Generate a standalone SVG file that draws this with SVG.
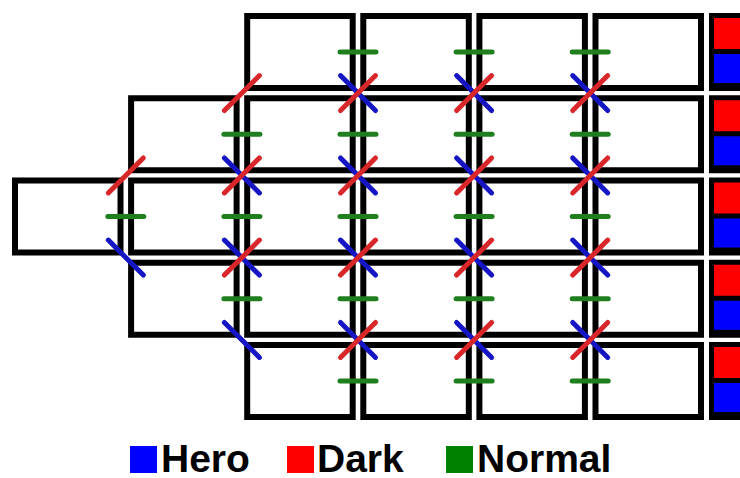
<svg xmlns="http://www.w3.org/2000/svg" xmlns:xlink="http://www.w3.org/1999/xlink" width="740" height="478" viewBox="0 0 740 478">
<style>
.box{fill:#fff;stroke:#000;stroke-width:6}
.g{stroke:#1f7f1f;stroke-width:5;stroke-linecap:round}
.r{stroke:#d8262a;stroke-width:5;stroke-linecap:round}
.b{stroke:#1515c4;stroke-width:5;stroke-linecap:round}
.lbl{font-family:"Liberation Sans",Arial,sans-serif;font-weight:bold;font-size:39px;fill:#000}
</style>
<defs>
<line id="gl" class="g" x1="-18" y1="0" x2="18" y2="0"/>
<line id="rl" class="r" x1="-17.5" y1="17.5" x2="17.5" y2="-17.5"/>
<line id="bl" class="b" x1="-17.5" y1="-17.5" x2="17.5" y2="17.5"/>
</defs>
<rect width="740" height="478" fill="#fff"/>
<g id="nodes">
<g id="r0c2"><rect class="box" x="247.2" y="16" width="105.5" height="72"/></g>
<g id="r0c3"><rect class="box" x="363.3" y="16" width="105.5" height="72"/></g>
<g id="r0c4"><rect class="box" x="479.4" y="16" width="105.5" height="72"/></g>
<g id="r0c5"><rect class="box" x="595.5" y="16" width="105.5" height="72"/></g>
<g id="r1c1"><rect class="box" x="131.1" y="98.25" width="105.5" height="72"/></g>
<g id="r1c2"><rect class="box" x="247.2" y="98.25" width="105.5" height="72"/></g>
<g id="r1c3"><rect class="box" x="363.3" y="98.25" width="105.5" height="72"/></g>
<g id="r1c4"><rect class="box" x="479.4" y="98.25" width="105.5" height="72"/></g>
<g id="r1c5"><rect class="box" x="595.5" y="98.25" width="105.5" height="72"/></g>
<g id="r2c0"><rect class="box" x="15" y="180.5" width="105.5" height="72"/></g>
<g id="r2c1"><rect class="box" x="131.1" y="180.5" width="105.5" height="72"/></g>
<g id="r2c2"><rect class="box" x="247.2" y="180.5" width="105.5" height="72"/></g>
<g id="r2c3"><rect class="box" x="363.3" y="180.5" width="105.5" height="72"/></g>
<g id="r2c4"><rect class="box" x="479.4" y="180.5" width="105.5" height="72"/></g>
<g id="r2c5"><rect class="box" x="595.5" y="180.5" width="105.5" height="72"/></g>
<g id="r3c1"><rect class="box" x="131.1" y="262.75" width="105.5" height="72"/></g>
<g id="r3c2"><rect class="box" x="247.2" y="262.75" width="105.5" height="72"/></g>
<g id="r3c3"><rect class="box" x="363.3" y="262.75" width="105.5" height="72"/></g>
<g id="r3c4"><rect class="box" x="479.4" y="262.75" width="105.5" height="72"/></g>
<g id="r3c5"><rect class="box" x="595.5" y="262.75" width="105.5" height="72"/></g>
<g id="r4c2"><rect class="box" x="247.2" y="345" width="105.5" height="72"/></g>
<g id="r4c3"><rect class="box" x="363.3" y="345" width="105.5" height="72"/></g>
<g id="r4c4"><rect class="box" x="479.4" y="345" width="105.5" height="72"/></g>
<g id="r4c5"><rect class="box" x="595.5" y="345" width="105.5" height="72"/></g>
<g id="side">
<rect x="709" y="13" width="40" height="78" fill="#000"/><rect x="714" y="18" width="30" height="31" fill="#f00"/><rect x="714" y="54" width="30" height="29" fill="#00f"/>
<rect x="709" y="95.25" width="40" height="78" fill="#000"/><rect x="714" y="100.25" width="30" height="31" fill="#f00"/><rect x="714" y="136.25" width="30" height="29" fill="#00f"/>
<rect x="709" y="177.5" width="40" height="78" fill="#000"/><rect x="714" y="182.5" width="30" height="31" fill="#f00"/><rect x="714" y="218.5" width="30" height="29" fill="#00f"/>
<rect x="709" y="259.75" width="40" height="78" fill="#000"/><rect x="714" y="264.75" width="30" height="31" fill="#f00"/><rect x="714" y="300.75" width="30" height="29" fill="#00f"/>
<rect x="709" y="342" width="40" height="78" fill="#000"/><rect x="714" y="347" width="30" height="31" fill="#f00"/><rect x="714" y="383" width="30" height="29" fill="#00f"/>
</g>
</g>
<g id="connectors">
<g id="normal">
<use href="#gl" x="358" y="52"/><use href="#gl" x="474.1" y="52"/><use href="#gl" x="590.2" y="52"/>
<use href="#gl" x="241.9" y="134.25"/><use href="#gl" x="358" y="134.25"/><use href="#gl" x="474.1" y="134.25"/><use href="#gl" x="590.2" y="134.25"/>
<use href="#gl" x="125.8" y="216.5"/><use href="#gl" x="241.9" y="216.5"/><use href="#gl" x="358" y="216.5"/><use href="#gl" x="474.1" y="216.5"/><use href="#gl" x="590.2" y="216.5"/>
<use href="#gl" x="241.9" y="298.75"/><use href="#gl" x="358" y="298.75"/><use href="#gl" x="474.1" y="298.75"/><use href="#gl" x="590.2" y="298.75"/>
<use href="#gl" x="358" y="381"/><use href="#gl" x="474.1" y="381"/><use href="#gl" x="590.2" y="381"/>
</g>
<g id="hero">
<use href="#bl" x="358" y="93.1"/><use href="#bl" x="474.1" y="93.1"/><use href="#bl" x="590.2" y="93.1"/>
<use href="#bl" x="241.9" y="175.4"/><use href="#bl" x="358" y="175.4"/><use href="#bl" x="474.1" y="175.4"/><use href="#bl" x="590.2" y="175.4"/>
<use href="#bl" x="125.8" y="257.6"/><use href="#bl" x="241.9" y="257.6"/><use href="#bl" x="358" y="257.6"/><use href="#bl" x="474.1" y="257.6"/><use href="#bl" x="590.2" y="257.6"/>
<use href="#bl" x="241.9" y="339.9"/><use href="#bl" x="358" y="339.9"/><use href="#bl" x="474.1" y="339.9"/><use href="#bl" x="590.2" y="339.9"/>
</g>
<g id="dark">
<use href="#rl" x="241.9" y="93.1"/><use href="#rl" x="358" y="93.1"/><use href="#rl" x="474.1" y="93.1"/><use href="#rl" x="590.2" y="93.1"/>
<use href="#rl" x="125.8" y="175.4"/><use href="#rl" x="241.9" y="175.4"/><use href="#rl" x="358" y="175.4"/><use href="#rl" x="474.1" y="175.4"/><use href="#rl" x="590.2" y="175.4"/>
<use href="#rl" x="241.9" y="257.6"/><use href="#rl" x="358" y="257.6"/><use href="#rl" x="474.1" y="257.6"/><use href="#rl" x="590.2" y="257.6"/>
<use href="#rl" x="358" y="339.9"/><use href="#rl" x="474.1" y="339.9"/><use href="#rl" x="590.2" y="339.9"/>
</g>
</g>
<g id="legend">
<rect x="130" y="446" width="27" height="27" fill="#00f"/>
<text class="lbl" x="161" y="472">Hero</text>
<rect x="287" y="446" width="27" height="27" fill="#f00"/>
<text class="lbl" x="317" y="472">Dark</text>
<rect x="446" y="446" width="27" height="27" fill="#008000"/>
<text class="lbl" x="477" y="472">Normal</text>
</g>
</svg>
